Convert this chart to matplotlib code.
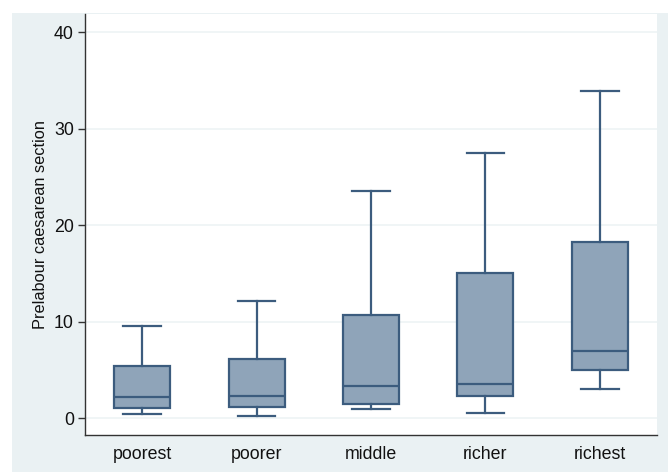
import matplotlib
matplotlib.use("Agg")
import matplotlib.pyplot as plt
from matplotlib.patches import Rectangle

groups = ["poorest", "poorer", "middle", "richer", "richest"]
whislo = [0.42, 0.25, 0.93, 0.55, 3.07]
q1 = [1.03, 1.14, 1.48, 2.3, 4.96]
med = [2.15, 2.3, 3.28, 3.5, 7.0]
q3 = [5.4, 6.1, 10.65, 15.0, 18.3]
whishi = [9.5, 12.1, 23.5, 27.45, 33.9]

plt.rcParams['font.family'] = ['Liberation Sans', 'DejaVu Sans']

bg = "#eaf1f3"
edge = "#3c5c7e"
fill = "#8fa4b9"

fig = plt.figure(figsize=(6.68, 4.72), dpi=100)
fig.patches.append(Rectangle((12 / 668, 0), 1, (472 - 13) / 472,
                             transform=fig.transFigure, facecolor=bg,
                             edgecolor="none", zorder=-10))

ax = fig.add_axes([85 / 668, (472 - 435) / 472, (657 - 85) / 668, (435 - 14) / 472])
ax.set_facecolor("white")

stats = []
for i, g in enumerate(groups):
    stats.append(dict(label=g, whislo=whislo[i], q1=q1[i], med=med[i],
                      q3=q3[i], whishi=whishi[i], fliers=[]))

ax.bxp(stats, positions=range(1, 6), widths=0.49, patch_artist=True,
       showfliers=False,
       boxprops=dict(facecolor=fill, edgecolor=edge, linewidth=1.6),
       medianprops=dict(color=edge, linewidth=1.6),
       whiskerprops=dict(color=edge, linewidth=1.6),
       capprops=dict(color=edge, linewidth=1.6), capwidths=0.33)

ax.set_xlim(0.5, 5.5)
ax.set_ylim(-1.75, 41.9)
ax.set_yticks([0, 10, 20, 30, 40])
ax.yaxis.grid(True, color="#eef3f5", linewidth=1.2)
ax.set_axisbelow(True)
ax.set_ylabel("Prelabour caesarean section", fontsize=11.8, color="#111111", labelpad=4)

for s in ["top", "right"]:
    ax.spines[s].set_visible(False)
for s in ["left", "bottom"]:
    ax.spines[s].set_color("#333333")
    ax.spines[s].set_linewidth(1.0)

ax.tick_params(axis="y", length=5, width=1, color="#333333", labelsize=12.8,
               labelcolor="#111111", pad=3)
ax.tick_params(axis="x", length=0, labelsize=12.8, labelcolor="#111111", pad=8)

fig.savefig("out.png", dpi=100)
